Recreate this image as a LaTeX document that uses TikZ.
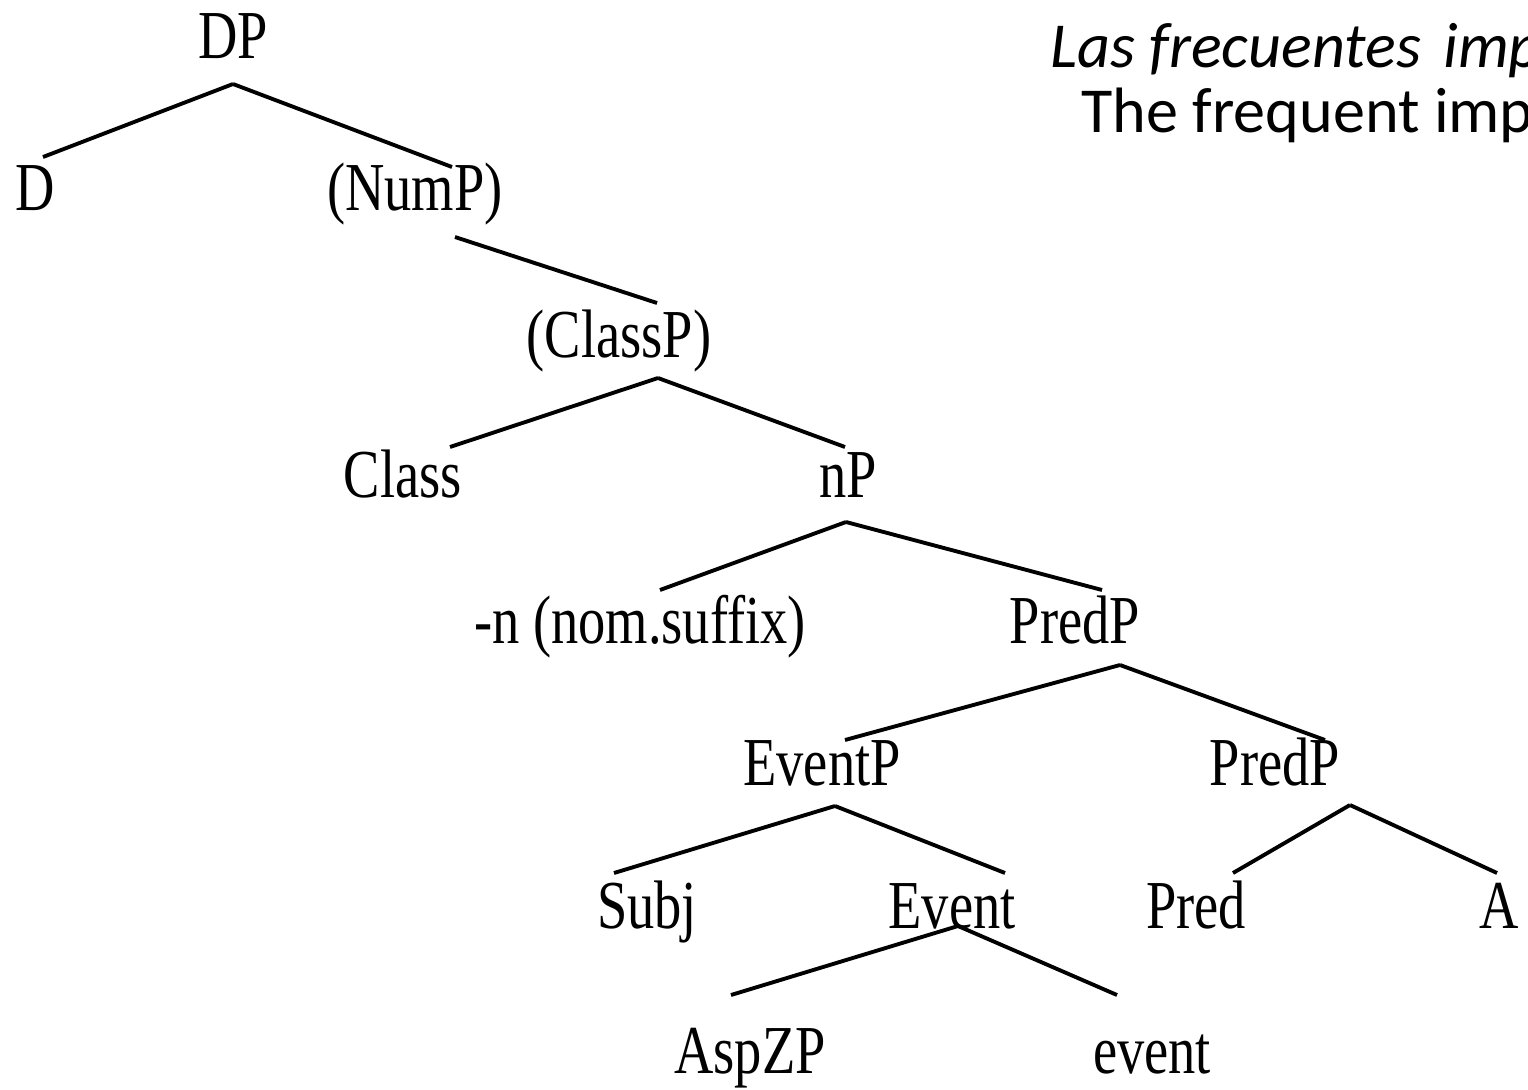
\documentclass[tikz,border=0pt]{standalone}
\usepackage{fontspec}
\setmainfont{Liberation Serif}
\newfontfamily\calibri{Carlito}
\tikzset{%
  myedge/.style={line width=2.2pt},
  mylabel/.style={font=\fontsize{31pt}{36pt}\selectfont, inner sep=0pt, anchor=base, yscale=1.26, transform shape},
  mynote/.style={font=\calibri\fontsize{36.5pt}{42pt}\selectfont, inner sep=0pt, anchor=base west}
}

\begin{document}
\begin{tikzpicture}[x=0.02cm, y=-0.02cm]
\useasboundingbox (0,0) rectangle (1528,1089);
\clip (0,0) rectangle (1528,1089);

\node [mynote, font=\calibri\itshape\fontsize{36.5pt}{42pt}\selectfont] (es) at (1050,67) {Las frecuentes\hspace{0.35em}imp};
\node [mynote] (en) at (1081,132) {The frequent imp};

% tree labels
\foreach \name / \x / \y / \txt in {DP/233/58/DP, D/35/210/D, NumP/415/210/{(NumP)},
  ClassP/619/357/{(ClassP)}, Class/403/497/Class, nP/848/497/nP,
  nsuf/640/643/{-n (nom.suffix)}, PredP/1075/643/PredP,
  EventP/822/785/EventP, PredPb/1275/785/PredP,
  Subj/647/928/Subj, Event/952/928/Event, Pred/1196/928/Pred, A/1499/928/A,
  AspZP/750/1073/AspZP, event/1152/1073/event}{
  \node [mylabel] (\name) at (\x,\y) {\txt};
}

% branch ends
\foreach \name / \x / \y in {DP-b/233/84, D-t/43/157, NumP-t/452/167,
  NumP-b/455/237, ClassP-t/657/303,
  ClassP-b/658/378, Class-t/450/447, nP-t/845/447,
  nP-b/846/522, nsuf-t/660/590, PredP-t/1102/590,
  PredP-b/1120/665, EventP-t/845/740, PredPb-t/1325/740,
  EventP-b/835/806, Subj-t/614/873, Event-t/1005/873,
  PredPb-b/1350/805, Pred-t/1233/873, A-t/1497/873,
  Event-b/958/926, AspZP-t/731/995, event-t/1117/995}{
  \coordinate (\name) at (\x,\y);
}

\foreach \a / \b in {DP-b/D-t, DP-b/NumP-t, NumP-b/ClassP-t,
  ClassP-b/Class-t, ClassP-b/nP-t, nP-b/nsuf-t, nP-b/PredP-t,
  PredP-b/EventP-t, PredP-b/PredPb-t, EventP-b/Subj-t, EventP-b/Event-t,
  PredPb-b/Pred-t, PredPb-b/A-t, Event-b/AspZP-t, Event-b/event-t}{
  \draw [myedge] (\a) -- (\b);
}

\end{tikzpicture}
\end{document}
